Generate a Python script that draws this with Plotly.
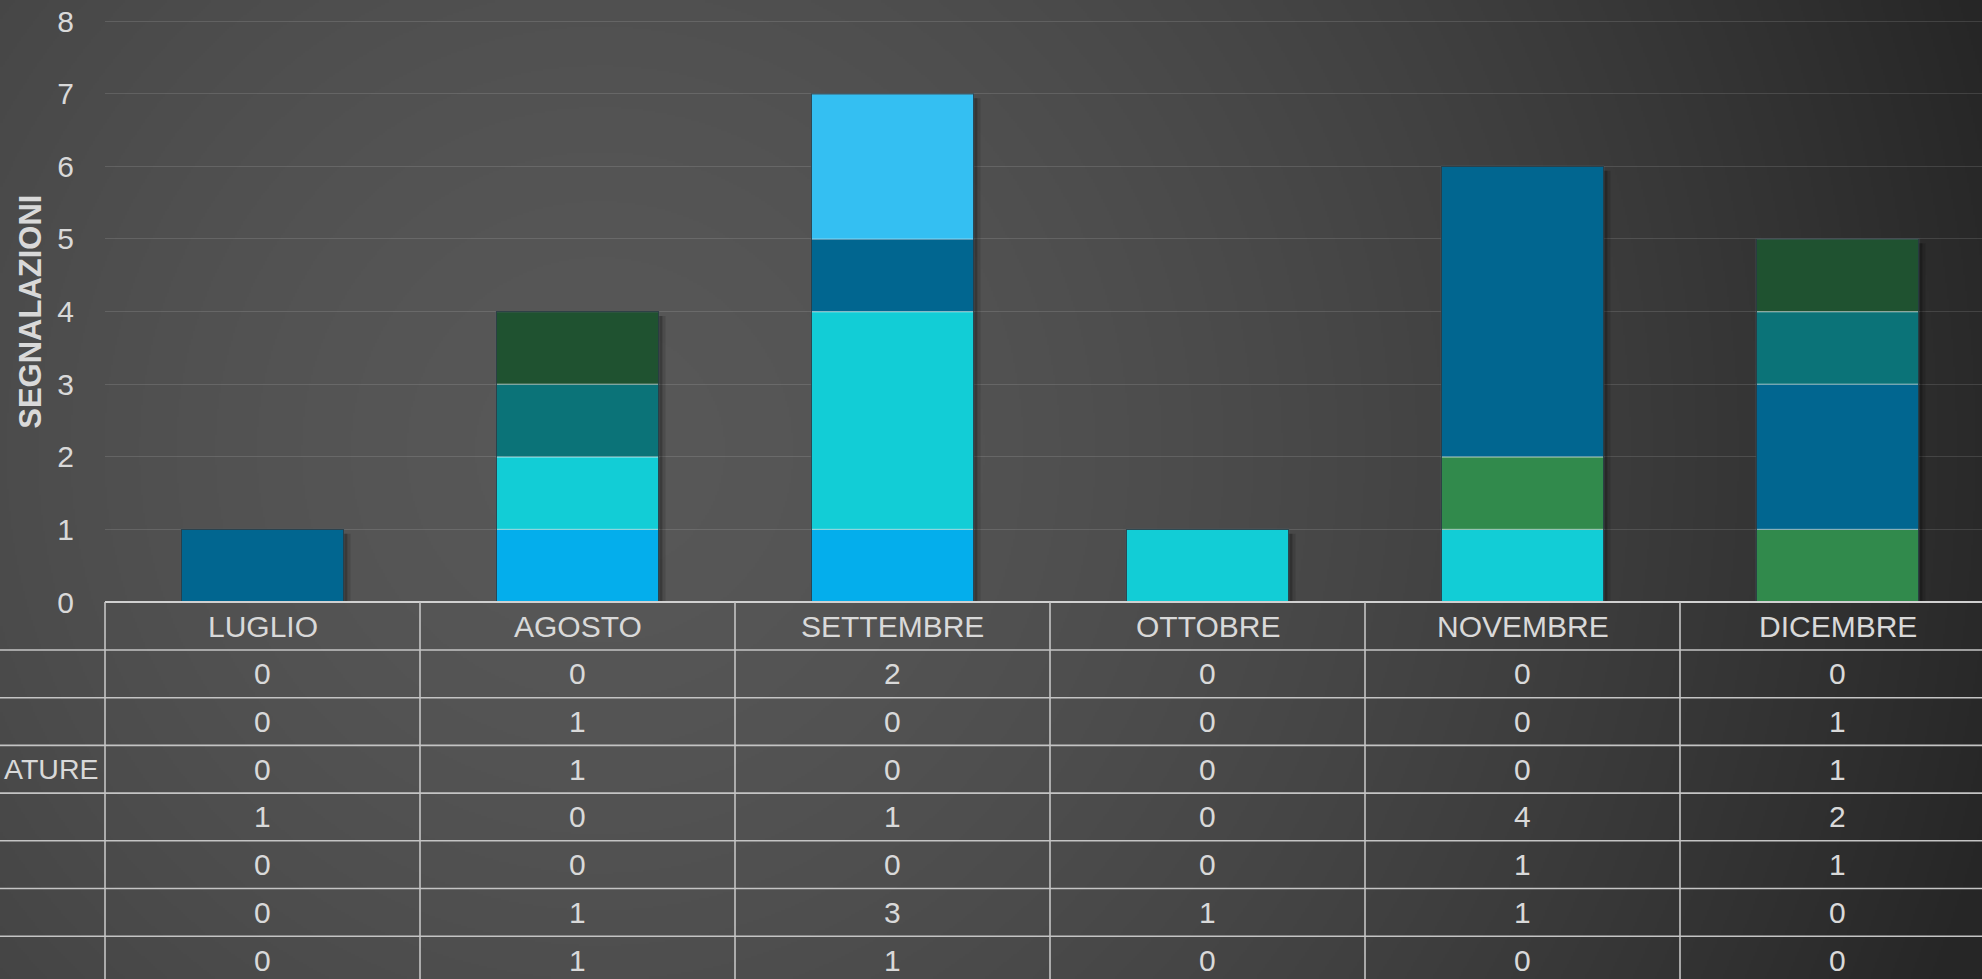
import base64
import struct
import zlib

import numpy as np
import plotly.graph_objects as go

# ---------------- data ----------------
months = ["LUGLIO", "AGOSTO", "SETTEMBRE", "OTTOBRE", "NOVEMBRE", "DICEMBRE"]
# series in the order of the data-table rows (top row first)
serie_1 = [0, 0, 2, 0, 0, 0]
serie_2 = [0, 1, 0, 0, 0, 1]
serie_3 = [0, 1, 0, 0, 0, 1]
serie_4 = [1, 0, 1, 0, 4, 2]
serie_5 = [0, 0, 0, 0, 1, 1]
serie_6 = [0, 1, 3, 1, 1, 0]
serie_7 = [0, 1, 1, 0, 0, 0]
row_labels = ["", "", "ATURE", "", "", "", ""]  # only visible part of the row headers
y_ticks = [0, 1, 2, 3, 4, 5, 6, 7, 8]
y_title = "SEGNALAZIONI"

series = [serie_1, serie_2, serie_3, serie_4, serie_5, serie_6, serie_7]
colors = ["#34bff2", "#1f5230", "#0b7378", "#016690", "#318a4c", "#12cdd6", "#04aeec"]

# ---------------- geometry ----------------
W, H = 1982, 979
Y_TOP = 8.03
ML, MT, MB = 105, 19, 377
PW, PH = W - ML, H - MT - MB
COLW = 315.0
x_range = [-0.5, -0.5 + PW / COLW]
BAR_W = 0.515
TXT = "#d9d9d9"
FONT = "Liberation Sans, Arial, sans-serif"


def px_to_paper_x(px):
    return (px - ML) / PW


def px_to_paper_y(py):
    return (MT + PH - py) / PH


def data_to_paper_x(x):
    return (x - x_range[0]) / (x_range[1] - x_range[0])


# ---------------- background gradient ----------------
def png_data_uri(arr):
    h, w, _ = arr.shape
    raw = b"".join(b"\x00" + arr[i].tobytes() for i in range(h))

    def chunk(t, d):
        c = struct.pack(">I", len(d)) + t + d
        return c + struct.pack(">I", zlib.crc32(t + d) & 0xFFFFFFFF)

    png = (b"\x89PNG\r\n\x1a\n"
           + chunk(b"IHDR", struct.pack(">IIBBBBB", w, h, 8, 2, 0, 0, 0))
           + chunk(b"IDAT", zlib.compress(raw, 9))
           + chunk(b"IEND", b""))
    return "data:image/png;base64," + base64.b64encode(png).decode()


gw, gh = 991, 490
gx = (np.arange(gw) + 0.5) * W / gw
gy = (np.arange(gh) + 0.5) * H / gh
X, Y = np.meshgrid(gx, gy)
d = np.clip(np.sqrt((X - 600) ** 2 + (Y - 450) ** 2) / 1450.0, 0, 1)
val = 88 - (d ** 1.6) * (88 - 38)
img = np.repeat(val[:, :, None], 3, axis=2).astype(np.uint8)
bg_uri = png_data_uri(img)

# ---------------- figure ----------------
fig = go.Figure()
idx = list(range(len(months)))
stack_order = list(range(len(series)))[::-1]  # bottom of stack = last table row
totals = [sum(s[i] for s in series) for i in idx]

# soft shadow (two layers)
for shift, alpha in ((0.022, 0.12), (0.012, 0.22)):
    fig.add_trace(go.Bar(
        x=idx, y=totals, base=[-0.06] * len(idx), width=BAR_W,
        offset=-BAR_W / 2 + shift,
        marker=dict(color=f"rgba(0,0,0,{alpha})", line=dict(width=0)),
        hoverinfo="skip", showlegend=False,
    ))

cum = [0] * len(idx)
for k in stack_order:
    vals = series[k]
    fig.add_trace(go.Bar(
        x=idx,
        y=[v if v else None for v in vals],
        base=list(cum),
        width=BAR_W,
        marker=dict(color=colors[k], line=dict(color="rgba(255,255,255,0.38)", width=1.2)),
        showlegend=False,
    ))
    cum = [c + v for c, v in zip(cum, vals)]

# outline of the whole stack
fig.add_trace(go.Bar(
    x=idx, y=totals, base=[0] * len(idx), width=BAR_W,
    marker=dict(color="rgba(0,0,0,0)", line=dict(color="rgba(15,35,45,0.75)", width=1.2)),
    hoverinfo="skip", showlegend=False,
))

# ---------------- data table ----------------
shapes = []
annotations = []
LINE = dict(color="#c4c4c4", width=1.6)
header_top = MT + PH
header_bot = header_top + 48
ROW_H = 47.7
row_lines = [header_bot + k * ROW_H for k in range(len(series) + 1)]
bottom_px = H + 20

# top (axis) line
shapes.append(dict(type="line", xref="paper", yref="paper",
                   x0=0, x1=1, y0=0, y1=0, line=dict(color="#d0d0d0", width=1.8)))
# row lines
for py in row_lines:
    shapes.append(dict(type="line", xref="paper", yref="paper",
                       x0=px_to_paper_x(0), x1=1,
                       y0=px_to_paper_y(py), y1=px_to_paper_y(py), line=LINE))
# column lines
for i in idx:
    xb = data_to_paper_x(i - 0.5)
    shapes.append(dict(type="line", xref="paper", yref="paper",
                       x0=xb, x1=xb, y0=0, y1=px_to_paper_y(bottom_px), line=LINE))

# header labels
for i, m in enumerate(months):
    annotations.append(dict(x=i, xref="x", y=px_to_paper_y((header_top + header_bot) / 2),
                            yref="paper", text=m, showarrow=False,
                            xanchor="center", yanchor="middle",
                            font=dict(size=30, color=TXT, family=FONT)))
# values
for r, s in enumerate(series):
    yc = px_to_paper_y(row_lines[r] + ROW_H / 2)
    for i, v in enumerate(s):
        annotations.append(dict(x=i, xref="x", y=yc, yref="paper", text=str(v),
                                showarrow=False, xanchor="center", yanchor="middle",
                                font=dict(size=30, color=TXT, family=FONT)))
    if row_labels[r]:
        annotations.append(dict(x=px_to_paper_x(100), xref="paper", y=yc, yref="paper",
                                text=row_labels[r], showarrow=False,
                                xanchor="right", yanchor="middle",
                                font=dict(size=28.5, color=TXT, family=FONT)))

# y axis title
annotations.append(dict(x=px_to_paper_x(31), xref="paper",
                        y=px_to_paper_y(MT + 2.5 + (H - MB - MT - 2.5) / 2), yref="paper",
                        text="<b>" + y_title + "</b>", textangle=-90, showarrow=False,
                        xanchor="center", yanchor="middle",
                        font=dict(size=31, color=TXT, family=FONT)))

fig.update_layout(
    width=W, height=H,
    margin=dict(l=ML, r=0, t=MT, b=MB, pad=0),
    barmode="overlay",
    paper_bgcolor="#3c3c3c",
    plot_bgcolor="rgba(0,0,0,0)",
    shapes=shapes,
    annotations=annotations,
    images=[dict(source=bg_uri, xref="paper", yref="paper",
                 x=px_to_paper_x(0), y=px_to_paper_y(0),
                 sizex=W / PW, sizey=H / PH, sizing="stretch",
                 xanchor="left", yanchor="top", layer="below")],
    xaxis=dict(range=x_range, showticklabels=False, showgrid=False,
               zeroline=False, showline=False, fixedrange=True),
    yaxis=dict(range=[0, Y_TOP], tickvals=y_ticks, showgrid=True,
               gridcolor="rgba(255,255,255,0.12)", gridwidth=1.3,
               zeroline=False, showline=False, ticks="",
               ticklabelstandoff=30,
               tickfont=dict(size=30, color=TXT, family=FONT)),
    font=dict(family=FONT, color=TXT),
)

fig.write_html("out.html", config={"displayModeBar": False},
               post_script="document.body.style.margin='0';document.body.style.overflow='hidden';")
